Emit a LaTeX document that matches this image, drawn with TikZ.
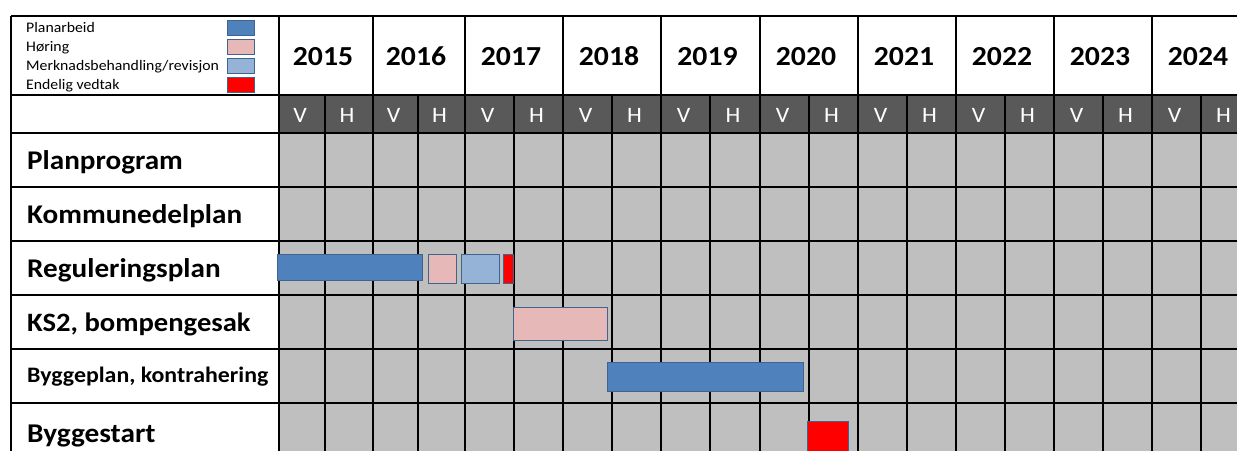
\documentclass[tikz,border=0pt]{standalone}
\usepackage{fontspec}
\setmainfont{Carlito}[FakeStretch=1.08]
\definecolor{planblue}{HTML}{4F81BD}
\definecolor{barline}{HTML}{41648F}
\definecolor{horpink}{HTML}{E6B9B8}
\definecolor{merkblue}{HTML}{95B3D7}
\definecolor{endred}{HTML}{FF0000}
\definecolor{cellgray}{HTML}{BFBFBF}
\definecolor{headdark}{HTML}{595959}
\begin{document}
\begin{tikzpicture}[x=1pt,y=-1pt,
  gridline/.style={line width=2.4pt,black},
  bar/.style={draw=barline,line width=1pt,inner sep=0pt,minimum width=#1},
  rowlabel/.style={anchor=west,font=\bfseries\fontsize{27}{27}\selectfont,inner sep=0pt},
  yearlabel/.style={anchor=base,font=\bfseries\fontsize{27.5}{27.5}\selectfont,inner sep=0pt},
  halflabel/.style={anchor=base,font=\fontsize{22}{22}\selectfont,text=white,inner sep=0pt},
  legendtext/.style={anchor=base west,font=\fontsize{14.6}{14.6}\selectfont,inner sep=0pt},
  swatch/.style={draw=barline,line width=0.8pt,inner sep=0pt,minimum width=27pt,minimum height=15pt}]
\useasboundingbox (0,0) rectangle (1237,450);
\begin{scope}
\clip (0,0) rectangle (1237,450);
% cells
\fill[cellgray] (279,133) rectangle (1260,470);
\fill[headdark] (279,95) rectangle (1260,133);
% horizontal lines
\foreach \yy in {16,95,133,187,241,295,349,403}
  \draw[gridline] (11,\yy) -- (1260,\yy);
% vertical lines
\draw[gridline] (11,16) -- (11,470);
\foreach \xx in {279,373,465,563,661,760,858,956,1054,1152,1250}
  \draw[gridline] (\xx,16) -- (\xx,470);
\foreach \xx in {325,418,514,612,710,809,907,1005,1103,1201}
  \draw[gridline] (\xx,95) -- (\xx,470);
% years
\foreach \xa/\xb/\yr in {279/373/2015,373/465/2016,465/563/2017,563/661/2018,661/760/2019,760/858/2020,858/956/2021,956/1054/2022,1054/1152/2023,1152/1250/2024}
  \node[yearlabel] (y\yr) at ({(\xa+\xb)/2-3},65) {\yr};
% halves
\foreach \xa/\xb/\lab/\i in {279/325/V/1,325/373/H/2,373/418/V/3,418/465/H/4,465/514/V/5,514/563/H/6,563/612/V/7,612/661/H/8,661/710/V/9,710/760/H/10,760/809/V/11,809/858/H/12,858/907/V/13,907/956/H/14,956/1005/V/15,1005/1054/H/16,1054/1103/V/17,1103/1152/H/18,1152/1201/V/19,1201/1250/H/20}
  \node[halflabel] (h\i) at ({(\xa+\xb)/2-2},122) {\lab};
% legend
\node[legendtext] (lg1) at (26,32) {Planarbeid};
\node[legendtext] (lg2) at (26,51.5) {Høring};
\node[legendtext] (lg3) at (26,70.5) {Merknadsbehandling/revisjon};
\node[legendtext] (lg4) at (26,89.5) {Endelig vedtak};
\node[swatch,fill=planblue] (sw1) at (240.5,27.5) {};
\node[swatch,fill=horpink] (sw2) at (240.5,46.5) {};
\node[swatch,fill=merkblue] (sw3) at (240.5,65.5) {};
\node[swatch,fill=endred] (sw4) at (240.5,84.5) {};
% row labels
\node[rowlabel] (r1) at (27,162) {Planprogram};
\node[rowlabel] (r2) at (27,216) {Kommunedelplan};
\node[rowlabel] (r3) at (27,270) {Reguleringsplan};
\node[rowlabel,font=\bfseries\fontsize{26.5}{26.5}\selectfont] (r4) at (27,324) {KS2, bompengesak};
\node[rowlabel,font=\bfseries\fontsize{22.1}{22.1}\selectfont] (r5) at (27,377) {Byggeplan, kontrahering};
\node[rowlabel,font=\bfseries\fontsize{27.1}{27.1}\selectfont] (r6) at (27,436) {Byggestart};
% bars
\node[bar=145pt,minimum height=26pt,fill=planblue] (b1) at (349.5,267) {};
\node[bar=28pt,minimum height=29pt,fill=horpink] (b2) at (442,268.5) {};
\node[bar=38pt,minimum height=29pt,fill=merkblue] (b3) at (480,268.5) {};
\node[bar=10pt,minimum height=29pt,fill=endred] (b4) at (508,268.5) {};
\node[bar=94pt,minimum height=33pt,fill=horpink] (b5) at (560,323.5) {};
\node[bar=196pt,minimum height=29pt,fill=planblue] (b6) at (705,376.5) {};
\node[bar=41pt,minimum height=34pt,fill=endred] (b7) at (827.5,438) {};
\end{scope}
\end{tikzpicture}
\end{document}
